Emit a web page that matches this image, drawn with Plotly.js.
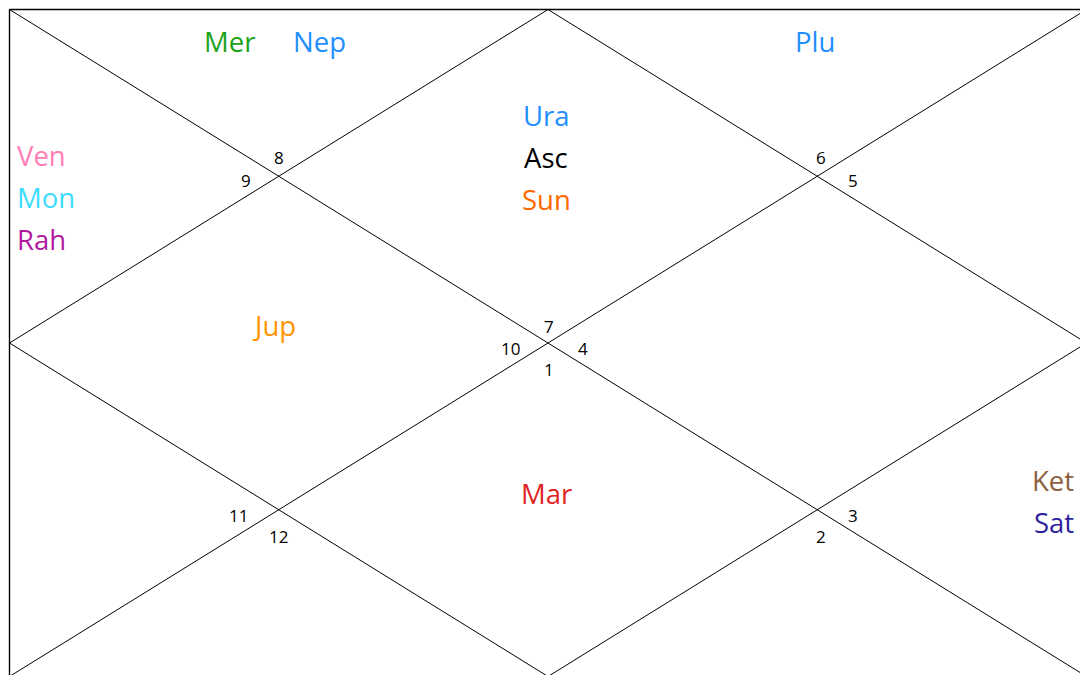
<!DOCTYPE html>
<html>
<head>
<meta charset="utf-8">
<script src="https://cdn.plot.ly/plotly-3.0.1.min.js"></script>
<style>html,body{margin:0;padding:0;background:#fff;}#chart{width:1080px;height:675px;}</style>
</head>
<body>
<div id="chart"></div>
<script>
// ---- DATA ----
// houses 1..12 (North Indian chart, counter-clockwise from top centre)
const houses = [1, 2, 3, 4, 5, 6, 7, 8, 9, 10, 11, 12];
// sign number shown in each house
const houseSigns = [7, 8, 9, 10, 11, 12, 1, 2, 3, 4, 5, 6];
// planets and the house each occupies
const planets = ["Ura", "Asc", "Sun", "Mer", "Nep", "Ven", "Mon", "Rah", "Jup", "Mar", "Ket", "Sat", "Plu"];
const planetHouses = [1, 1, 1, 2, 2, 3, 3, 3, 4, 7, 9, 9, 12];

// ---- STYLE ----
const planetColors = {
  Ura: "#1f8fff", Asc: "#000000", Sun: "#ff6a00", Mer: "#1aa31a", Nep: "#1f8fff",
  Ven: "#ff7eb6", Mon: "#3cdcff", Rah: "#b0189f", Jup: "#ff9400", Mar: "#e02424",
  Ket: "#8c5f40", Sat: "#2f1f9f", Plu: "#1f8fff"
};
const FONT = "Open Sans, Liberation Sans, sans-serif";

// ---- GEOMETRY (chart frame in axis units = pixels) ----
const L = 9.5, T = 9.5, R = 1086.5, B = 676.5;
const CX = (L + R) / 2, CY = (T + B) / 2;
const qx1 = (L + CX) / 2, qx2 = (CX + R) / 2, qy1 = (T + CY) / 2, qy2 = (CY + B) / 2;

const traces = [];
function seg(xs, ys, w) {
  traces.push({x: xs, y: ys, mode: "lines", type: "scatter", hoverinfo: "skip",
    line: {color: "#000", width: w}, showlegend: false});
}
seg([L, R, R, L, L], [T, T, B, B, T], 1.4);          // frame
seg([L, R], [T, B], 1);                                // diagonal
seg([R, L], [T, B], 1);                                // diagonal
seg([CX, R, CX, L, CX], [T, CY, B, CY, T], 1);         // inner diamond

// house text anchors: [x, y of stack centre, xanchor, direction]
const houseAnchor = {
  1: [CX - 2, CY - 186, "center", "v"],
  2: [qx1 - 4, 41, "center", "h"],
  3: [15, CY - 146, "left", "v"],
  4: [qx1 - 5, CY - 18, "center", "v"],
  5: [15, CY + 144, "left", "v"],
  6: [qx1, B - 41, "center", "h"],
  7: [CX - 2, CY + 150, "center", "v"],
  8: [qx2, B - 41, "center", "h"],
  9: [R - 11, CY + 158, "right", "v"],
  10: [qx2, CY - 18, "center", "v"],
  11: [R - 11, CY - 146, "right", "v"],
  12: [qx2 - 2, 41, "center", "h"]
};
// sign-number anchors near the intersections, by house
const houseNumAnchor = {
  1: [CX + 1, CY - 17], 2: [qx1, qy1 - 19], 3: [qx1 - 33, qy1 + 4], 4: [CX - 38, CY + 5],
  5: [qx1 - 40, qy2 + 6], 6: [qx1, qy2 + 27], 7: [CX + 1, CY + 26], 8: [qx2 + 4, qy2 + 27],
  9: [qx2 + 36, qy2 + 6], 10: [CX + 35, CY + 5], 11: [qx2 + 36, qy1 + 4], 12: [qx2 + 4, qy1 - 19]
};

const annotations = [];
houses.forEach((h, i) => {
  const a = houseNumAnchor[h];
  annotations.push({x: a[0], y: a[1], text: String(houseSigns[i]), showarrow: false,
    xanchor: "center", yanchor: "middle", font: {family: FONT, size: 17, color: "#000"}});
});

const SPACING_V = 42, SPACING_H = 90;
houses.forEach(h => {
  const list = planets.filter((p, i) => planetHouses[i] === h);
  if (!list.length) return;
  const a = houseAnchor[h];
  const n = list.length;
  list.forEach((p, k) => {
    let x = a[0], y = a[1];
    if (a[3] === "v") y = a[1] + (k - (n - 1) / 2) * SPACING_V;
    else x = a[0] + (k - (n - 1) / 2) * SPACING_H;
    annotations.push({x: x, y: y, text: p, showarrow: false, xanchor: a[2], yanchor: "middle",
      font: {family: FONT, size: 27.5, color: planetColors[p]}});
  });
});

const layout = {
  width: 1080, height: 675,
  margin: {l: 0, r: 0, t: 0, b: 0},
  paper_bgcolor: "#fff", plot_bgcolor: "#fff",
  xaxis: {range: [0, 1080], visible: false, fixedrange: true},
  yaxis: {range: [675, 0], visible: false, fixedrange: true},
  showlegend: false,
  annotations: annotations
};
Plotly.newPlot("chart", traces, layout, {displayModeBar: false, staticPlot: true});
</script>
</body>
</html>
